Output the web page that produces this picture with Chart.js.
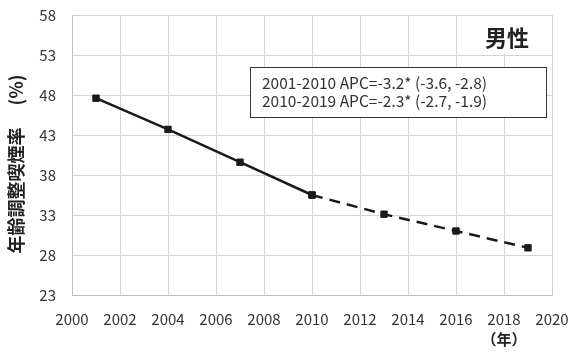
<!DOCTYPE html>
<html>
<head>
<meta charset="utf-8">
<script src="https://cdn.jsdelivr.net/npm/chart.js@4"></script>
<style>
  html, body { margin: 0; padding: 0; background: #fff; }
  #wrap { width: 571px; height: 352px; }
</style>
</head>
<body>
<div id="wrap"><canvas id="c" width="571" height="352"></canvas></div>
<script>
const FONT = "'Noto Sans CJK JP', 'Noto Sans', sans-serif";

// data
const years1 = [2001, 2004, 2007, 2010];
const rates1 = [47.6, 43.7, 39.6, 35.5];
const years2 = [2010, 2013, 2016, 2019];
const rates2 = [35.5, 33.1, 31.0, 28.9];
const yTicks = [23, 28, 33, 38, 43, 48, 53, 58];
const xTicks = [2000, 2002, 2004, 2006, 2008, 2010, 2012, 2014, 2016, 2018, 2020];
const apcLines = [
  '2001-2010 APC=-3.2* (-3.6, -2.8)',
  '2010-2019 APC=-2.3* (-2.7, -1.9)'
];
const panelLabel = '男性';
const yTitle = '年齢調整喫煙率　 (%)　';
const xUnit = '（年）';

const toPts = (xs, ys) => xs.map((x, i) => ({ x: x, y: ys[i] }));

const annotations = {
  id: 'annotations',
  afterDatasetsDraw(chart) {
    const ctx = chart.ctx;
    const xs = chart.scales.x;
    ctx.save();
    // panel label with white backing
    ctx.fillStyle = '#fff';
    ctx.fillRect(472, 16, 74, 37);
    ctx.fillStyle = '#222';
    ctx.font = 'bold 22px ' + FONT;
    ctx.textAlign = 'center';
    ctx.textBaseline = 'middle';
    ctx.fillText(panelLabel, 507, 38);
    // APC box
    ctx.fillStyle = '#fff';
    ctx.fillRect(250, 67, 296, 50);
    ctx.strokeStyle = '#333';
    ctx.lineWidth = 1;
    ctx.strokeRect(250.5, 67.5, 296, 50);
    ctx.fillStyle = '#333';
    ctx.font = '15.5px ' + FONT;
    ctx.textAlign = 'left';
    apcLines.forEach((t, i) => ctx.fillText(t, 262, 83 + i * 18));
    // x unit
    ctx.fillStyle = '#222';
    ctx.font = 'bold 15px ' + FONT;
    ctx.textAlign = 'center';
    ctx.fillText(xUnit, xs.getPixelForValue(2018), 339);
    ctx.restore();
  }
};

new Chart(document.getElementById('c'), {
  type: 'line',
  data: {
    datasets: [
      {
        data: toPts(years1, rates1),
        borderColor: '#1a1a1a',
        backgroundColor: '#1a1a1a',
        borderWidth: 2.5,
        pointStyle: 'rect',
        pointRadius: 4.5,
        pointBorderWidth: 1
      },
      {
        data: toPts(years2, rates2),
        borderColor: '#1a1a1a',
        backgroundColor: '#1a1a1a',
        borderWidth: 2.5,
        borderDash: [11, 7],
        pointStyle: 'rect',
        pointRadius: 4.5,
        pointBorderWidth: 1
      }
    ]
  },
  options: {
    responsive: false,
    animation: false,
    layout: { padding: { top: 15, right: 19, left: 0, bottom: 0 } },
    plugins: {
      legend: { display: false },
      tooltip: { enabled: false }
    },
    scales: {
      x: {
        type: 'linear',
        min: 2000,
        max: 2020,
        afterBuildTicks: s => { s.ticks = xTicks.map(v => ({ value: v })); },
        afterFit: s => { s.height = 57; s.paddingLeft = 0; s.paddingRight = 0; },
        grid: { color: '#d4d4d4', drawTicks: false },
        border: { color: '#bfbfbf' },
        ticks: {
          color: '#333',
          font: { family: FONT, size: 15 },
          padding: 15,
          maxRotation: 0,
          callback: v => String(v)
        }
      },
      y: {
        min: 23,
        max: 58,
        afterBuildTicks: s => { s.ticks = yTicks.map(v => ({ value: v })); },
        afterFit: s => { s.width = 72; s.paddingTop = 0; s.paddingBottom = 0; },
        grid: { color: '#d4d4d4', drawTicks: false },
        border: { color: '#bfbfbf' },
        ticks: {
          color: '#333',
          font: { family: FONT, size: 15 },
          padding: 16
        },
        title: {
          display: true,
          text: yTitle,
          color: '#222',
          font: { family: FONT, size: 18, weight: 'bold' },
          padding: { top: 5, bottom: 0 }
        }
      }
    }
  },
  plugins: [annotations]
});
</script>
</body>
</html>
